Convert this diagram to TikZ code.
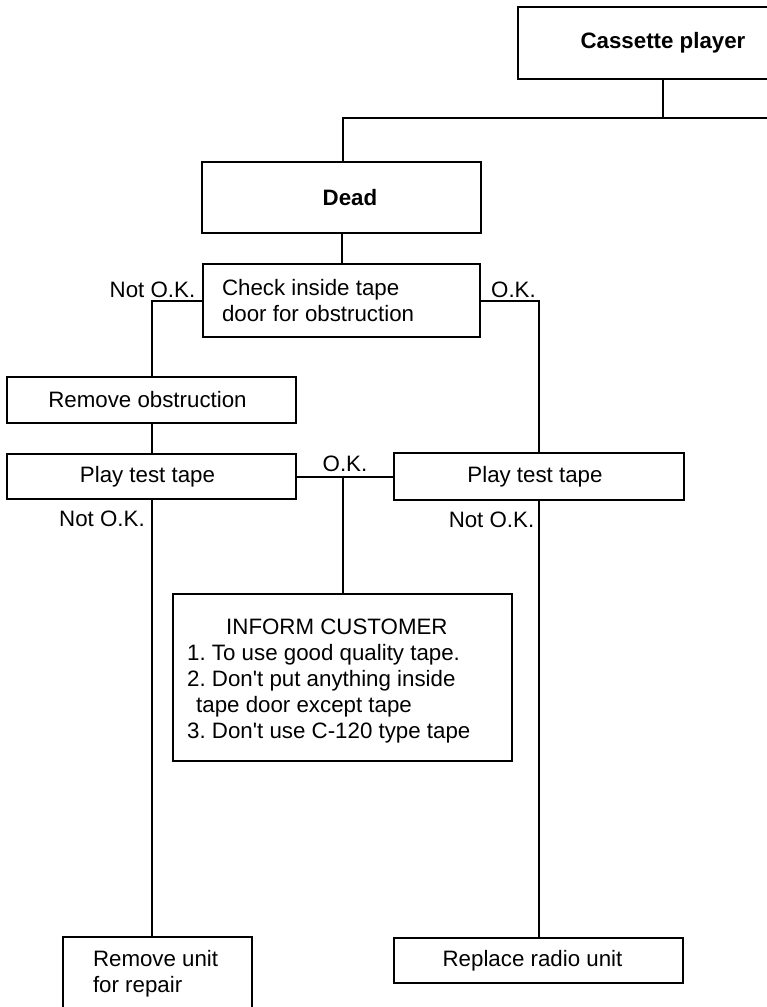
\documentclass[tikz,border=0pt]{standalone}
\usepackage{fontspec}
\setmainfont{Liberation Sans}
\begin{document}
\frenchspacing
\begin{tikzpicture}[x=1pt,y=-1pt,
  every node/.style={font=\fontsize{22.3pt}{26pt}\selectfont},
  box/.style={draw, line width=2pt, rectangle, inner sep=0pt},
  txt/.style={inner sep=0pt},
  wire/.style={line width=2pt}]
\useasboundingbox (0,0) rectangle (767,1007);
\clip (0,0) rectangle (767,1007);
\fill[white] (0,0) rectangle (767,1007);

% boxes
\node[box, minimum width=290pt, minimum height=72pt] (cassette) at (663,43) {\bfseries Cassette player};
\node[box, minimum width=279pt, minimum height=71pt] (dead) at (341.5,197.5) {\hspace*{17pt}\bfseries Dead};
\node[box, text width=239pt, inner xsep=19pt, align=left, minimum height=73pt] (check) at (341.5,300.5)
  {\spaceskip=0pt\xspaceskip=0pt\relax Check inside tape\\door for obstruction};
\node[box, minimum width=289pt, minimum height=46pt] (remobs) at (151.5,400) {Remove obstruction\hspace*{8pt}};
\node[box, minimum width=289pt, minimum height=45pt] (playL) at (151.5,476.5) {Play test tape\hspace*{8pt}};
\node[box, minimum width=290pt, minimum height=47pt] (playR) at (539,476.5) {Play test tape\hspace*{8pt}};
\node[box, minimum width=339pt, minimum height=167pt] (inform) at (342.5,677.5) {};
\node[txt, align=left, anchor=west] (informtxt) at (187,681.5)
  {\hspace*{39pt}INFORM CUSTOMER\\
   1. To use good quality tape.\\
   2. Don\textquotesingle t put anything inside\\
   \hspace*{9pt}tape door except tape\\
   3. Don\textquotesingle t use C-120 type tape};
\node[box, text width=129pt, inner xsep=30pt, align=left, minimum height=74pt] (remunit) at (157.5,974)
  {\spaceskip=0pt\xspaceskip=0pt\relax Remove unit\\for repair};
\node[box, minimum width=289pt, minimum height=45pt] (replace) at (538.5,960.5) {Replace radio unit\hspace*{12pt}};

% branch labels
\node[txt] (nok1) at (152.5,290) {Not O.K.};
\node[txt] (ok1) at (513.5,290) {O.K.};
\node[txt] (ok2) at (345,464) {O.K.};
\node[txt] (nok2) at (102,519) {Not O.K.};
\node[txt] (nok3) at (491.5,520) {Not O.K.};

% connectors
\coordinate (busL) at (343,118);
\coordinate (busR) at (790,118);
\draw[wire] (cassette.south) -- (cassette.south |- busL);
\draw[wire] (busR) -- (busL) -- (busL |- dead.north);
\draw[wire] (dead.south) -- (check.north);
\draw[wire] (check.west) -| (remobs.north);
\draw[wire] (check.east) -| (playR.north);
\draw[wire] (remobs.south) -- (playL.north);
\draw[wire] (playL.east) -- (playR.west);
\draw[wire] (inform.north) -- (inform.north |- playL.east);
\draw[wire] (playL.south) -- (playL.south |- remunit.north);
\draw[wire] (playR.south) -- (playR.south |- replace.north);
\end{tikzpicture}
\end{document}
